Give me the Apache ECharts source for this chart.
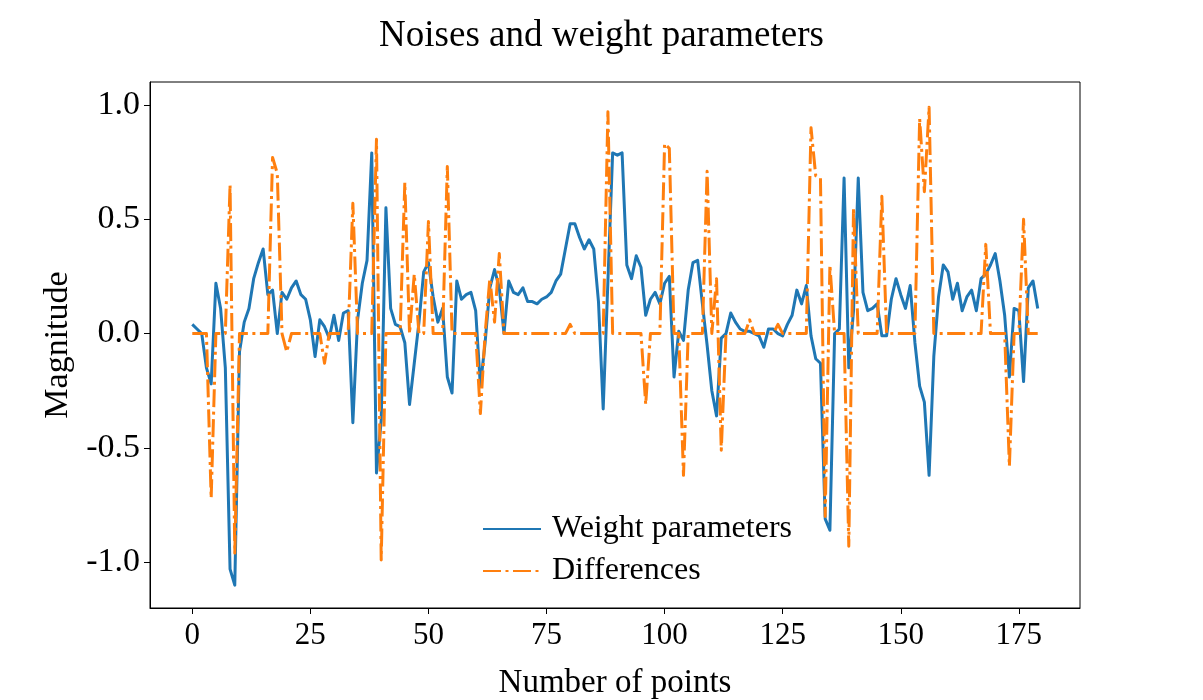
<!DOCTYPE html>
<html>
<head>
<meta charset="utf-8">
<script src="https://cdn.jsdelivr.net/npm/echarts@6/dist/echarts.min.js"></script>
<style>
html,body{margin:0;padding:0;background:#fff}
#chart{width:1203px;height:700px}
</style>
</head>
<body>
<div id="chart"></div>
<script>
// weight parameters, one value per point
var weights = [
    0.04, 0.02, 0.00, -0.15, -0.22, 0.22, 0.11, -0.15, -1.03, -1.10,
    -0.08, 0.05, 0.11, 0.24, 0.31, 0.37, 0.17, 0.19, 0.00, 0.18,
    0.15, 0.20, 0.23, 0.17, 0.15, 0.06, -0.10, 0.06, 0.03, -0.02,
    0.08, -0.03, 0.09, 0.10, -0.39, 0.06, 0.22, 0.32, 0.79, -0.61,
    -0.38, 0.55, 0.11, 0.04, 0.03, -0.04, -0.31, -0.13, 0.05, 0.27,
    0.31, 0.16, 0.05, 0.11, -0.19, -0.26, 0.23, 0.15, 0.17, 0.18,
    0.10, -0.23, -0.04, 0.20, 0.28, 0.20, 0.00, 0.23, 0.18, 0.17,
    0.20, 0.14, 0.14, 0.13, 0.15, 0.16, 0.18, 0.23, 0.26, 0.37,
    0.48, 0.48, 0.42, 0.37, 0.41, 0.37, 0.14, -0.33, 0.23, 0.79,
    0.78, 0.79, 0.30, 0.24, 0.34, 0.29, 0.08, 0.15, 0.18, 0.13,
    0.22, 0.25, -0.19, 0.01, -0.03, 0.19, 0.31, 0.32, 0.13, -0.05,
    -0.25, -0.36, -0.02, 0.00, 0.09, 0.05, 0.02, 0.01, 0.01, 0.00,
    -0.01, -0.06, 0.02, 0.02, 0.00, -0.01, 0.04, 0.08, 0.19, 0.13,
    0.21, -0.01, -0.11, -0.13, -0.81, -0.86, 0.00, 0.02, 0.68, -0.15,
    0.10, 0.68, 0.18, 0.10, 0.11, 0.13, -0.01, -0.01, 0.15, 0.24,
    0.17, 0.11, 0.21, -0.04, -0.23, -0.30, -0.62, -0.10, 0.16, 0.30,
    0.27, 0.15, 0.22, 0.10, 0.16, 0.19, 0.10, 0.24, 0.26, 0.30,
    0.35, 0.23, 0.08, -0.19, 0.11, 0.10, -0.21, 0.20, 0.23, 0.11
];
// differences (noise), mostly zero with spikes
var differences = [
    0, 0, 0, 0, -0.72, 0, 0, 0, 0.65, -0.96,
    0, 0, 0, 0, 0, 0, 0, 0.77, 0.70, 0,
    -0.08, 0, 0, 0, 0, 0, 0, 0, -0.13, 0,
    0, 0, 0, 0, 0.57, 0, 0, 0, 0, 0.85,
    -0.99, 0, 0, 0, 0, 0.66, 0, 0.26, 0, 0,
    0.49, 0, 0, 0, 0.73, 0, 0, 0, 0, 0,
    0, -0.35, 0, 0.24, 0.05, 0.35, 0, 0, 0, 0,
    0, 0, 0, 0, 0, 0, 0, 0, 0, 0,
    0.04, 0, 0, 0, 0, 0, 0, 0, 0.97, 0,
    0, 0, 0, 0, 0, 0, -0.31, 0, 0, 0,
    0.83, 0.81, 0, 0, -0.62, 0, 0, 0, 0, 0.71,
    0, 0.24, -0.51, 0, 0, 0, 0, 0, 0.06, 0,
    0, 0, 0, 0, 0.04, 0, 0, 0, 0, 0,
    0, 0.90, 0.69, 0.68, -0.80, 0.30, 0, 0, 0, -0.93,
    0.55, 0, 0, 0, 0, 0, 0.60, 0, 0, 0,
    0, 0, 0, 0, 0.94, 0.62, 0.99, 0, 0, 0,
    0, 0, 0, 0, 0, 0, 0, 0, 0.39, 0,
    0, 0, 0, -0.58, 0, 0, 0.50, 0, 0, 0
];
var xTicks = [0, 25, 50, 75, 100, 125, 150, 175];
var yTicks = [-1.0, -0.5, 0.0, 0.5, 1.0];

function toPoints(arr){
    var out = [];
    for (var i = 0; i < arr.length; i++) {
        out.push([i, arr[i]]);
    }
    return out;
}

var font = 'Liberation Serif';
var myChart = echarts.init(document.getElementById('chart'));
var option = {
    animation: false,
    backgroundColor: '#fff',
    title: {
        text: 'Noises and weight parameters',
        left: 'center',
        top: 13,
        textStyle: {fontFamily: font, fontSize: 37, fontWeight: 'normal', color: '#000'}
    },
    grid: {
        left: 150, top: 82, width: 930, height: 526,
        outerBoundsMode: 'none',
        containLabel: false,
        show: true, borderColor: '#000', borderWidth: 1
    },
    legend: {
        orient: 'vertical',
        left: 477,
        top: 506,
        itemWidth: 58,
        itemHeight: 14,
        itemGap: 6,
        itemStyle: {opacity: 0},
        textStyle: {fontFamily: font, fontSize: 32, color: '#000', lineHeight: 36, padding: [0, 0, 0, 6]},
        data: ['Weight parameters', 'Differences']
    },
    xAxis: {
        type: 'value',
        min: -8.95,
        max: 187.95,
        name: 'Number of points',
        nameLocation: 'middle',
        nameGap: 59,
        nameTextStyle: {fontFamily: font, fontSize: 33, color: '#000'},
        axisLine: {show: true, onZero: false, lineStyle: {color: '#000', width: 1}},
        axisTick: {show: true, length: 6, customValues: xTicks, lineStyle: {color: '#000'}},
        axisLabel: {customValues: xTicks, margin: 12, fontFamily: font, fontSize: 31, color: '#000'},
        splitLine: {show: false}
    },
    yAxis: {
        type: 'value',
        min: -1.2,
        max: 1.1,
        name: 'Magnitude',
        nameLocation: 'middle',
        nameGap: 74,
        nameTextStyle: {fontFamily: font, fontSize: 34, color: '#000'},
        axisLine: {show: true, onZero: false, lineStyle: {color: '#000', width: 1}},
        axisTick: {show: true, length: 6, customValues: yTicks, lineStyle: {color: '#000'}},
        axisLabel: {
            customValues: yTicks, margin: 10, fontFamily: font, fontSize: 34, color: '#000',
            formatter: function(v){ return v.toFixed(1); }
        },
        splitLine: {show: false}
    },
    series: [
        {
            name: 'Weight parameters',
            type: 'line',
            data: toPoints(weights),
            symbol: 'none',
            itemStyle: {color: '#1f77b4'},
            lineStyle: {color: '#1f77b4', width: 3, join: 'round'}
        },
        {
            name: 'Differences',
            type: 'line',
            data: toPoints(differences),
            symbol: 'none',
            itemStyle: {color: '#ff7f0e'},
            lineStyle: {color: '#ff7f0e', width: 3, type: [18, 4.5, 3, 4.5], join: 'round'}
        }
    ]
};
myChart.setOption(option);
</script>
</body>
</html>
